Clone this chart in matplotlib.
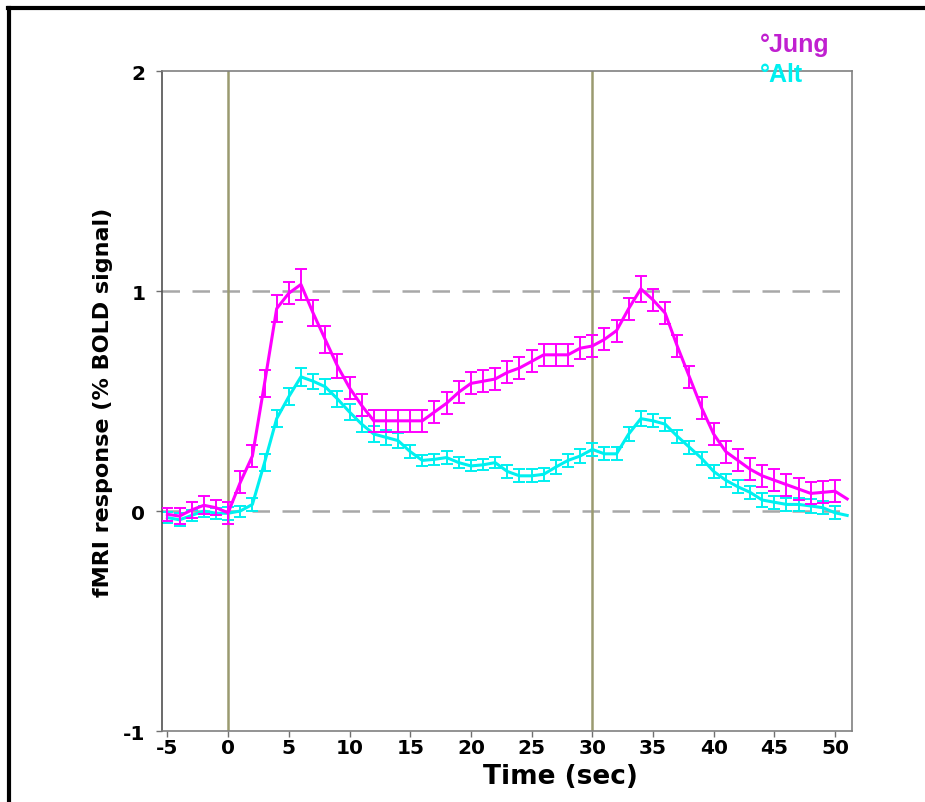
import numpy as np
import matplotlib
matplotlib.use('Agg')
import matplotlib.pyplot as plt
from matplotlib.lines import Line2D

plt.rcParams['axes.unicode_minus'] = False

# time axis (sec), one sample per second
time = list(range(-5, 52))

jung = [-0.015, -0.023, 0.005, 0.026, 0.015, -0.008, 0.13, 0.25, 0.58, 0.92,
        0.99, 1.03, 0.90, 0.78, 0.66, 0.56, 0.48, 0.41, 0.41, 0.41,
        0.41, 0.41, 0.45, 0.49, 0.54, 0.58, 0.59, 0.60, 0.63, 0.65,
        0.68, 0.71, 0.71, 0.71, 0.74, 0.75, 0.78, 0.82, 0.92, 1.01,
        0.96, 0.90, 0.75, 0.61, 0.47, 0.35, 0.27, 0.23, 0.19, 0.16,
        0.14, 0.12, 0.10, 0.08, 0.085, 0.09, 0.055]
jung_err = [0.03, 0.035, 0.035, 0.04, 0.035, 0.05, 0.05, 0.05, 0.06, 0.06,
            0.05, 0.07, 0.06, 0.06, 0.055, 0.05, 0.05, 0.05, 0.05, 0.05,
            0.05, 0.05, 0.05, 0.05, 0.05, 0.05, 0.05, 0.05, 0.05, 0.05,
            0.05, 0.05, 0.05, 0.05, 0.05, 0.05, 0.05, 0.05, 0.05, 0.06,
            0.05, 0.05, 0.05, 0.05, 0.05, 0.05, 0.05, 0.05, 0.05, 0.05,
            0.05, 0.05, 0.05, 0.05, 0.05, 0.05, 0.0]

alt = [-0.03, -0.04, -0.02, 0.0, -0.01, -0.01, 0.0, 0.03, 0.22, 0.42,
       0.52, 0.61, 0.59, 0.565, 0.51, 0.45, 0.395, 0.35, 0.335, 0.32,
       0.27, 0.23, 0.235, 0.243, 0.22, 0.205, 0.21, 0.22, 0.18, 0.16,
       0.16, 0.167, 0.20, 0.23, 0.25, 0.28, 0.26, 0.26, 0.35, 0.42,
       0.41, 0.395, 0.34, 0.29, 0.24, 0.18, 0.14, 0.11, 0.085, 0.05,
       0.04, 0.03, 0.03, 0.023, 0.015, -0.008, -0.02]
alt_err = [0.025, 0.03, 0.025, 0.025, 0.025, 0.03, 0.025, 0.03, 0.04, 0.04,
           0.04, 0.04, 0.035, 0.035, 0.035, 0.035, 0.035, 0.035, 0.035, 0.035,
           0.03, 0.025, 0.025, 0.03, 0.025, 0.025, 0.025, 0.025, 0.03, 0.03,
           0.03, 0.03, 0.03, 0.03, 0.03, 0.03, 0.03, 0.03, 0.03, 0.035,
           0.03, 0.03, 0.03, 0.03, 0.03, 0.03, 0.03, 0.03, 0.03, 0.03,
           0.03, 0.03, 0.03, 0.03, 0.03, 0.03, 0.0]

xticks = [-5, 0, 5, 10, 15, 20, 25, 30, 35, 40, 45, 50]
yticks = [-1, 0, 1, 2]
stim_on = [0, 30]

font = ['DejaVu Sans']
narrow = ['Liberation Sans Narrow', 'Liberation Sans', 'DejaVu Sans']
magenta = '#ff00ff'
cyan = '#00f0f0'

fig = plt.figure(figsize=(9.25, 8.03), dpi=100)
ax = fig.add_axes([0.1751, 0.0884, 0.7460, 0.8219])

ax.set_xlim(-5.45, 51.4)
ax.set_ylim(-1, 2)

# reference lines
for v in [0, 1]:
    ax.axhline(v, color='#a8a8a8', lw=1.8, dashes=(7, 5), zorder=1)
for s in stim_on:
    ax.axvline(s, color='#9a9a70', lw=1.8, zorder=1)

# curves: errorbars without the last (clipped) sample
n = len(time) - 1
ax.plot(time, jung, color=magenta, lw=2.2, zorder=3)
ax.errorbar(time[:n], jung[:n], yerr=jung_err[:n], fmt='none', ecolor=magenta,
            elinewidth=1.4, capsize=4, capthick=1.4, zorder=3)
ax.plot(time, alt, color=cyan, lw=2.2, zorder=2)
ax.errorbar(time[:n], alt[:n], yerr=alt_err[:n], fmt='none', ecolor=cyan,
            elinewidth=1.4, capsize=4, capthick=1.4, zorder=2)

ax.set_xticks(xticks)
ax.set_yticks(yticks)
ax.tick_params(axis='both', direction='out', length=4, width=1, color='#707070',
               labelsize=14.5)
ax.tick_params(axis='x', pad=1)
ax.tick_params(axis='y', pad=8)
for lbl in ax.get_xticklabels() + ax.get_yticklabels():
    lbl.set_fontweight('bold')
    lbl.set_family(font)

for sp in ax.spines.values():
    sp.set_color('#808080')
    sp.set_linewidth(1.2)
ax.spines['left'].set_color('#505050')

ax.set_xlabel('Time (sec)', fontsize=19, fontweight='bold', family=font)
ax.xaxis.set_label_coords(0.577, -0.048)
ax.set_ylabel('fMRI response (% BOLD signal)', fontsize=16, fontweight='bold',
              family=font)
ax.yaxis.set_label_coords(-0.071, 0.5)

# legend text
fig.text(760 / 925, 1 - 52 / 803, '°Jung', color='#c020d0', fontsize=18,
         fontweight='bold', family=narrow, va='baseline')
fig.text(760 / 925, 1 - 82 / 803, '°Alt', color='#00f0f0', fontsize=18,
         fontweight='bold', family=narrow, va='baseline')

# frame at top and left of the figure
fig.add_artist(Line2D([8 / 925, 1], [1 - 9 / 803, 1 - 9 / 803], color='black', lw=3,
                      transform=fig.transFigure))
fig.add_artist(Line2D([9 / 925, 9 / 925], [0, 1 - 9 / 803], color='black', lw=3,
                      transform=fig.transFigure))

fig.savefig('out.png', dpi=100)
